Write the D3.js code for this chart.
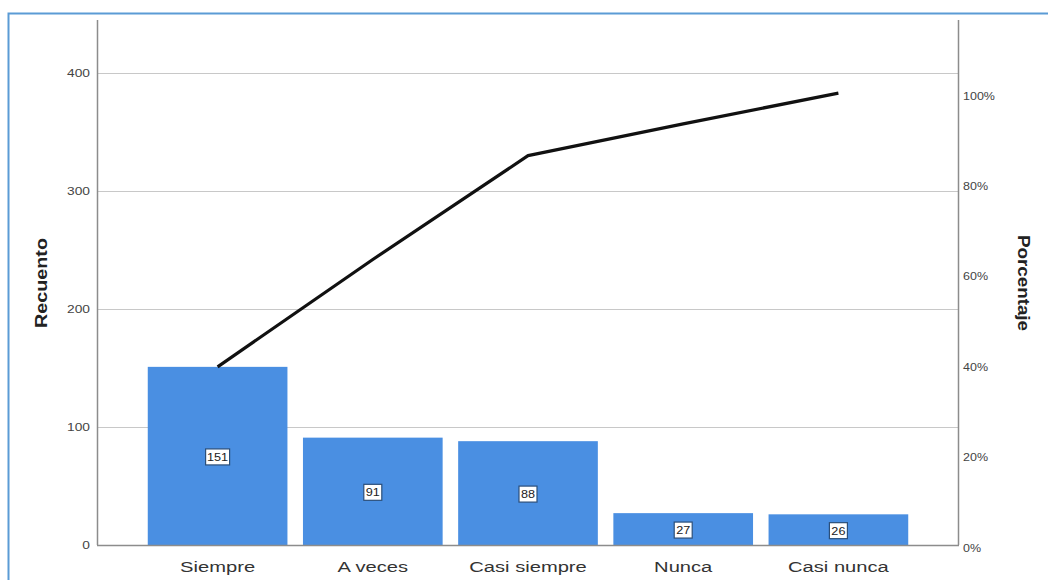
<!DOCTYPE html>
<html>
<head>
<meta charset="utf-8">
<script src="https://cdn.jsdelivr.net/npm/d3@7"></script>
<style>
  html, body { margin: 0; padding: 0; background: #fff; }
  svg { display: block; }
</style>
</head>
<body>
<svg id="chart" width="1048" height="580"></svg>
<script>
const categories = ["Siempre", "A veces", "Casi siempre", "Nunca", "Casi nunca"];
const counts = [151, 91, 88, 27, 26];
const countTicks = [0, 100, 200, 300, 400];
const pctTicks = [0, 20, 40, 60, 80, 100];

const total = d3.sum(counts);
const cumulative = d3.cumsum(counts);
const FONT = "Arial, 'Liberation Sans', sans-serif";
const SX = 1.25; // horizontal stretch of the reference text

const svg = d3.select("#chart");

// outer blue frame
svg.append("rect")
  .attr("x", 8.5).attr("y", 13.5)
  .attr("width", 1100).attr("height", 700)
  .attr("fill", "none").attr("stroke", "#5b9bd5").attr("stroke-width", 2);

const x0 = 97, x1 = 958, yBottom = 545;
const y = d3.scaleLinear().domain([0, 445]).range([yBottom, 20]);
const yPct = d3.scaleLinear().domain([0, 100]).range([yBottom, y(total)]);
const x = d3.scaleBand().domain(categories).range([140, 916]).paddingInner(0.1).paddingOuter(0.05);

// gridlines
svg.append("g").selectAll("line").data(countTicks.filter(d => d > 0)).join("line")
  .attr("x1", x0).attr("x2", x1)
  .attr("y1", d => Math.round(y(d)) + 0.5).attr("y2", d => Math.round(y(d)) + 0.5)
  .attr("stroke", "#c8c8c8").attr("stroke-width", 1);

// bars
svg.append("g").selectAll("rect").data(categories).join("rect")
  .attr("x", d => x(d))
  .attr("width", x.bandwidth())
  .attr("y", (d, i) => y(counts[i]))
  .attr("height", (d, i) => yBottom - y(counts[i]))
  .attr("fill", "#4a8fe2");

// axes lines
const axisColor = "#8c8c8c";
svg.append("line").attr("x1", x0 + 0.5).attr("x2", x0 + 0.5).attr("y1", 20).attr("y2", yBottom)
  .attr("stroke", axisColor).attr("stroke-width", 1.5);
svg.append("line").attr("x1", x1 + 0.5).attr("x2", x1 + 0.5).attr("y1", 20).attr("y2", yBottom)
  .attr("stroke", axisColor).attr("stroke-width", 1.5);
svg.append("line").attr("x1", x0).attr("x2", x1 + 1).attr("y1", yBottom + 0.5).attr("y2", yBottom + 0.5)
  .attr("stroke", axisColor).attr("stroke-width", 1.5);

// left axis labels (stretched text)
svg.append("g").selectAll("text").data(countTicks).join("text")
  .attr("transform", d => `translate(90,${y(d)}) scale(${SX},1)`)
  .attr("text-anchor", "end").attr("dy", "0.35em")
  .attr("font-family", FONT).attr("font-size", 11).attr("fill", "#444")
  .text(d => d);

// right axis labels
svg.append("g").selectAll("text").data(pctTicks).join("text")
  .attr("transform", d => `translate(963,${yPct(d) + 3}) scale(${SX},1)`)
  .attr("text-anchor", "start").attr("dy", "0.35em")
  .attr("font-family", FONT).attr("font-size", 10).attr("fill", "#444")
  .text(d => d + "%");

// x labels
svg.append("g").selectAll("text").data(categories).join("text")
  .attr("transform", d => `translate(${x(d) + x.bandwidth() / 2},572) scale(1.3,1)`)
  .attr("text-anchor", "middle")
  .attr("font-family", FONT)
  .attr("font-size", 15.5).attr("fill", "#333")
  .text(d => d);

// cumulative line
const line = d3.line()
  .x((d, i) => x(categories[i]) + x.bandwidth() / 2)
  .y(d => y(d));
svg.append("path").datum(cumulative)
  .attr("d", line)
  .attr("fill", "none").attr("stroke", "#111").attr("stroke-width", 3.2)
  .attr("stroke-linejoin", "round");

// bar value labels
const lab = svg.append("g").selectAll("g").data(categories).join("g")
  .attr("transform", (d, i) => `translate(${x(d) + x.bandwidth() / 2},${y(counts[i] / 2) + 1})`);
lab.append("rect")
  .attr("x", (d, i) => String(counts[i]).length === 3 ? -12 : -9)
  .attr("width", (d, i) => String(counts[i]).length === 3 ? 24 : 18)
  .attr("y", -8).attr("height", 16)
  .attr("fill", "#fff").attr("stroke", "#2b4f7a").attr("stroke-width", 1.2);
lab.append("text")
  .attr("text-anchor", "middle").attr("dy", "0.35em")
  .attr("transform", "scale(1.15,1)")
  .attr("font-family", FONT)
  .attr("font-size", 11).attr("fill", "#222")
  .text((d, i) => counts[i]);

// axis titles
svg.append("text")
  .attr("transform", `translate(47,283) rotate(-90)`)
  .attr("text-anchor", "middle")
  .attr("font-family", FONT)
  .attr("font-size", 16).attr("font-weight", "bold").attr("fill", "#222")
  .attr("textLength", 90).attr("lengthAdjust", "spacingAndGlyphs")
  .text("Recuento");
svg.append("text")
  .attr("transform", `translate(1018,283) rotate(90)`)
  .attr("text-anchor", "middle")
  .attr("font-family", FONT)
  .attr("font-size", 16).attr("font-weight", "bold").attr("fill", "#222")
  .attr("textLength", 96).attr("lengthAdjust", "spacingAndGlyphs")
  .text("Porcentaje");
</script>
</body>
</html>
